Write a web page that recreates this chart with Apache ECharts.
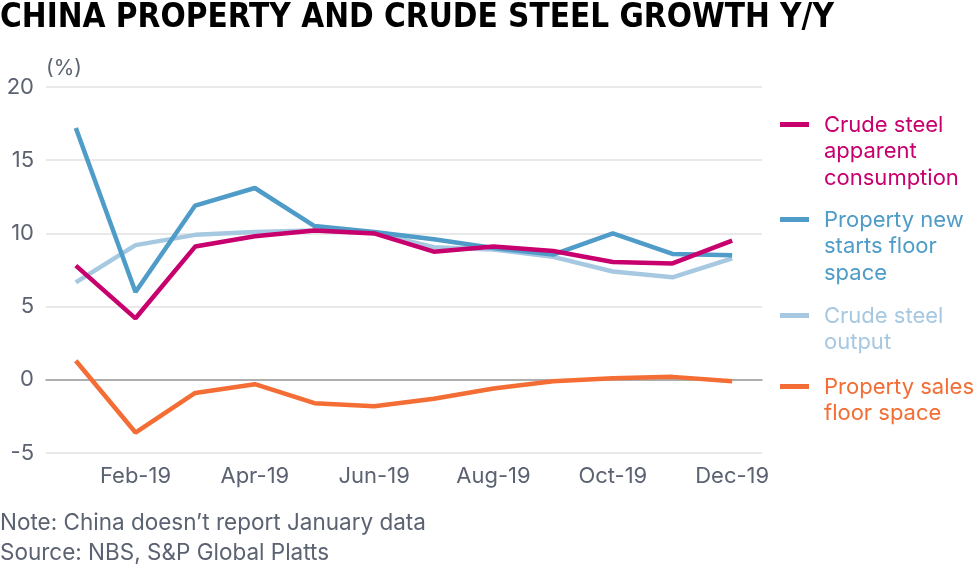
<!DOCTYPE html>
<html>
<head>
<meta charset="utf-8">
<title>China property and crude steel growth</title>
<script src="https://cdn.jsdelivr.net/npm/echarts@6/dist/echarts.min.js"></script>
<style>
  html, body { margin: 0; padding: 0; background: #fff; }
  #chart { width: 980px; height: 568px; }
</style>
</head>
<body>
<div id="chart"></div>
<script>
// 月份（1月数据实际为1-2月合并）
const months = ['Jan-19', 'Feb-19', 'Mar-19', 'Apr-19', 'May-19', 'Jun-19',
  'Jul-19', 'Aug-19', 'Sep-19', 'Oct-19', 'Nov-19', 'Dec-19']

// 各序列同比增速 (%)
const steelConsumption = [7.8, 4.2, 9.1, 9.8, 10.2, 10.0, 8.75, 9.1, 8.8, 8.05, 7.95, 9.5]
const newStarts = [17.2, 6.0, 11.9, 13.1, 10.5, 10.1, 9.6, 9.0, 8.55, 10.0, 8.6, 8.5]
const steelOutput = [6.65, 9.2, 9.9, 10.1, 10.2, 10.05, 9.05, 8.9, 8.4, 7.4, 7.0, 8.3]
const propertySales = [1.3, -3.6, -0.9, -0.3, -1.6, -1.8, -1.3, -0.6, -0.1, 0.1, 0.2, -0.1]

const seriesNames = ['Crude steel\napparent\nconsumption', 'Property new\nstarts floor\nspace', 'Crude steel\noutput', 'Property sales\nfloor space']
const seriesColors = ['#c7006e', '#4e9cc7', '#a6c8e1', '#f36d35']
const seriesData = [steelConsumption, newStarts, steelOutput, propertySales]

// y轴刻度
const yMin = -5
const yMax = 20
const yStep = 5

const textFont = 'Inter, "Noto Sans", sans-serif'
const greyText = '#5b6271'

let chart = echarts.init(document.getElementById('chart'))

// 右侧图例，用 graphic 画，让色块和第一行文字对齐
const legendCenters = [125, 220, 316, 387] // 每项第一行文字的中心高度
const legendLine = 26.5
let legendGraphics = []
seriesNames.forEach((name, i) => {
  legendGraphics.push({
    type: 'rect',
    left: 780,
    top: legendCenters[i] - 3,
    shape: { width: 29, height: 5 },
    style: { fill: seriesColors[i] }
  })
  legendGraphics.push({
    type: 'text',
    left: 824,
    top: legendCenters[i] - legendLine / 2,
    style: {
      text: name,
      fill: seriesColors[i],
      font: '22px ' + textFont,
      lineHeight: legendLine
    }
  })
})

let option = {
  backgroundColor: '#fff',
  animation: false,
  title: {
    text: 'CHINA PROPERTY AND CRUDE STEEL GROWTH Y/Y',
    left: 0,
    top: 2,
    padding: 0,
    textStyle: {
      fontFamily: '"Liberation Sans Narrow", "DejaVu Sans Condensed", Roboto, sans-serif',
      fontWeight: 'bold',
      fontSize: 33,
      color: '#000'
    }
  },
  grid: {
    left: 46,
    right: 218,
    top: 87,
    bottom: 115
  },
  xAxis: {
    type: 'category',
    data: months,
    boundaryGap: true,
    axisLine: { onZero: true, lineStyle: { color: '#9a9a9a', width: 1.5 } },
    axisTick: { show: false },
    axisLabel: {
      interval: (i) => i % 2 === 1,
      color: greyText,
      fontFamily: textFont,
      fontSize: 22,
      margin: 12
    },
    splitLine: { show: false }
  },
  yAxis: {
    type: 'value',
    min: yMin,
    max: yMax,
    interval: yStep,
    name: '(%)',
    nameLocation: 'end',
    nameGap: 8,
    nameTextStyle: {
      color: greyText,
      fontFamily: textFont,
      fontSize: 21,
      align: 'left'
    },
    axisLine: { show: false },
    axisTick: { show: false },
    axisLabel: {
      color: greyText,
      fontFamily: textFont,
      fontSize: 22,
      margin: 12
    },
    splitLine: { lineStyle: { color: '#e2e2e2', width: 1.5 } }
  },
  graphic: legendGraphics.concat([
    {
      type: 'text',
      left: 0,
      top: 508,
      style: {
        text: 'Note: China doesn’t report January data\nSource: NBS, S&P Global Platts',
        fill: greyText,
        font: '22.5px ' + textFont,
        lineHeight: 30
      }
    }
  ]),
  series: seriesData.map((d, i) => ({
    name: seriesNames[i],
    type: 'line',
    data: d,
    symbol: 'none',
    z: 10 - i,
    lineStyle: { color: seriesColors[i], width: 4.5 },
    itemStyle: { color: seriesColors[i] }
  }))
}
// 浅蓝线在底层
option.series[2].z = 2

chart.setOption(option)
</script>
</body>
</html>
